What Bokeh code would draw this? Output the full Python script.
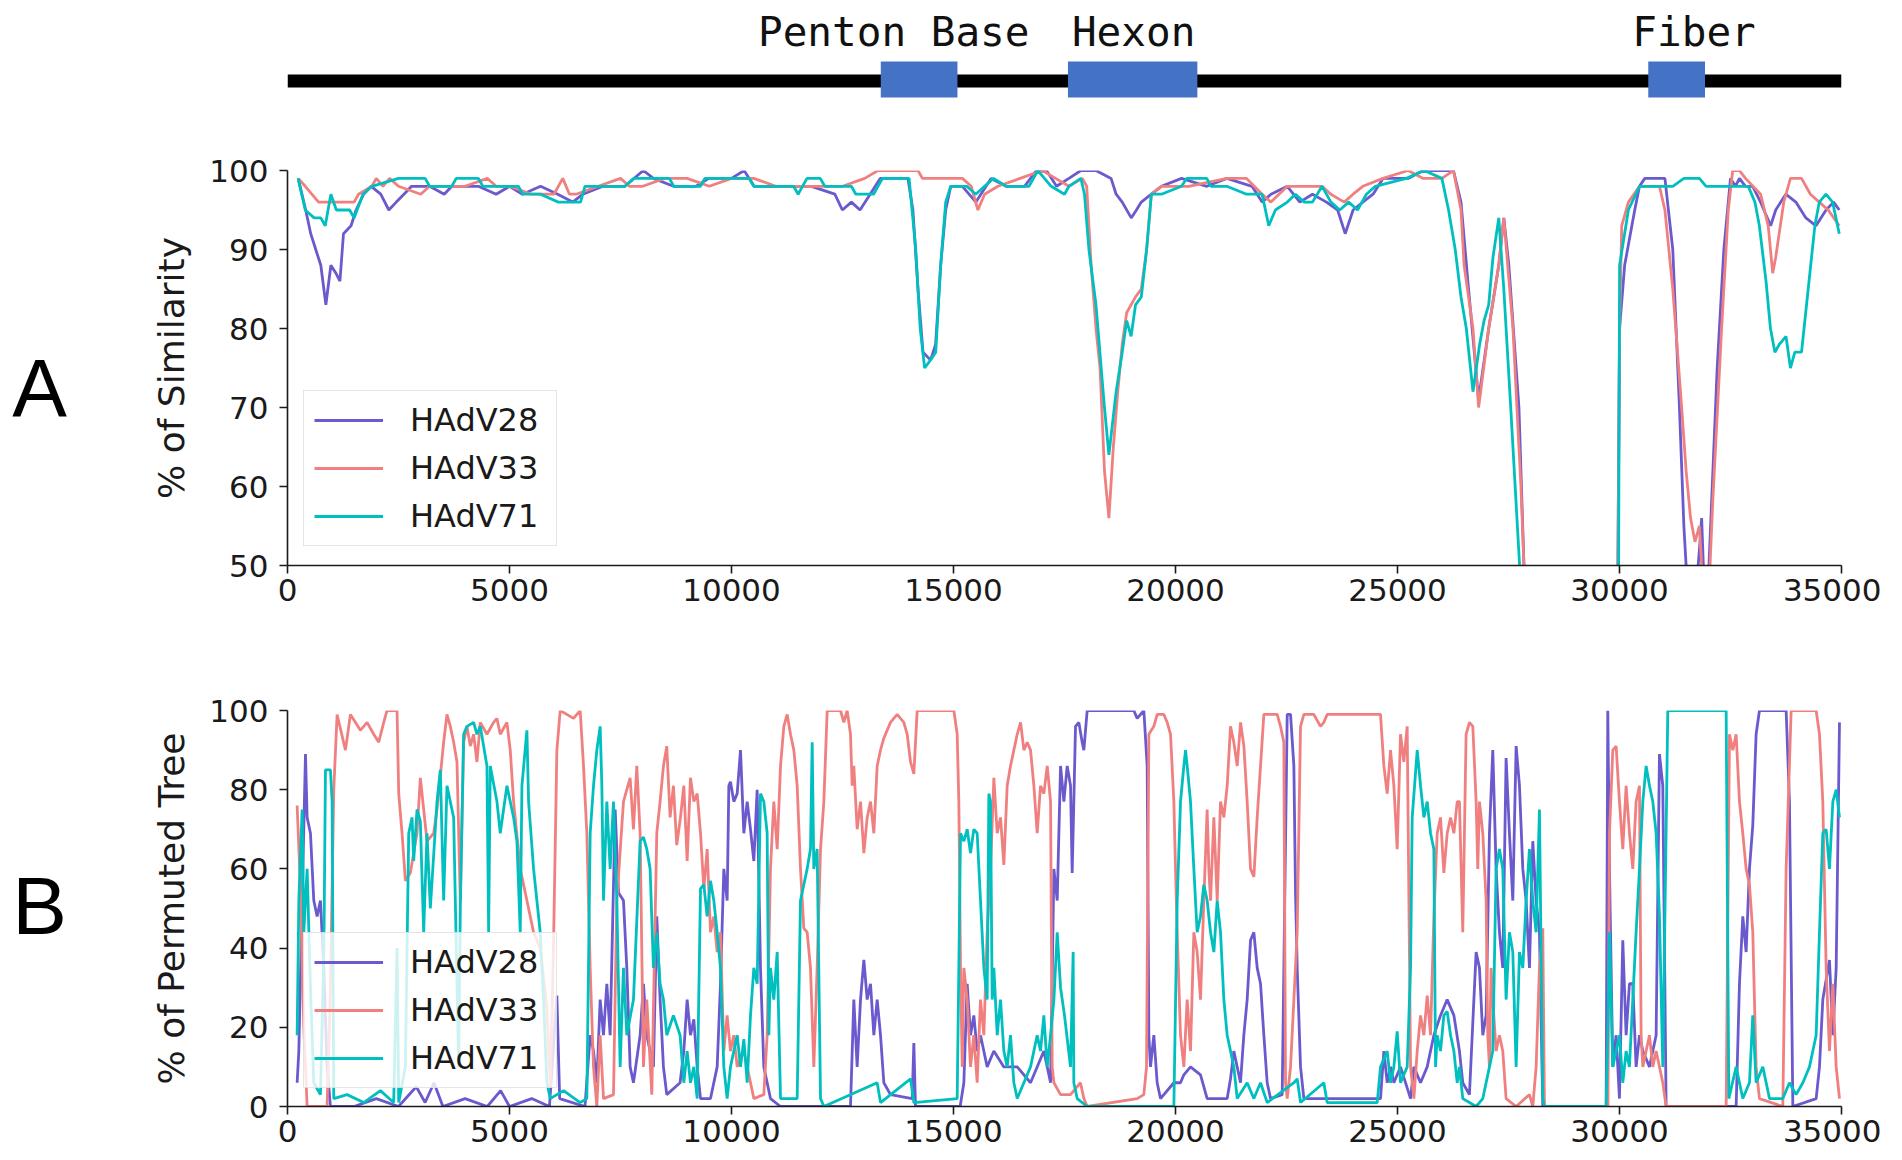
from bokeh.plotting import figure
from bokeh.layouts import column, row
from bokeh.models import Range1d, FixedTicker, Legend, LegendItem
from bokeh.embed import file_html
from bokeh.resources import INLINE
from bokeh.core.properties import value

# ---------------- data ----------------
series_names = ["HAdV28", "HAdV33", "HAdV71"]
series_colors = ["#6A5ACD", "#F08080", "#00BFBF"]

gene_names = ["Penton Base", "Hexon", "Fiber"]
gene_start = [13423, 17658, 30788]
gene_end = [15158, 20586, 32072]
gene_label_x = [13716, 19144, 31824]
genome_length = 35160

panel_letters = ["A", "B"]

x_ticks = [0, 5000, 10000, 15000, 20000, 25000, 30000, 35000]
sim_ticks = [50, 60, 70, 80, 90, 100]
perm_ticks = [0, 20, 40, 60, 80, 100]

# Panel A: % of similarity (position bp, value %)
sim_hadv28 = [(240, 99), (410, 95), (523, 92), (636, 90), (750, 88), (864, 83), (977, 88), (1090, 87), (1181, 86), (1261, 92), (1431, 93), (1545, 95), (1715, 97), (1885, 98), (2100, 97), (2282, 95), (2450, 96), (2623, 97), (2793, 98), (3200, 98), (3530, 97), (3700, 98), (4300, 98), (4700, 97), (5000, 98), (5290, 97), (5700, 98), (6085, 97), (6425, 96), (6652, 97), (7106, 98), (7600, 98), (8014, 100), (8241, 99), (8695, 98), (9200, 98), (9490, 99), (10000, 99), (10284, 100), (10511, 98), (11200, 98), (11800, 98), (12327, 97), (12497, 95), (12700, 96), (12895, 95), (13122, 97), (13349, 99), (13973, 99), (14086, 95), (14200, 85), (14313, 77), (14484, 76), (14597, 78), (14711, 88), (14824, 95), (14938, 98), (15200, 98), (15505, 96), (15846, 99), (16186, 98), (16600, 98), (16867, 100), (17094, 100), (17321, 98), (17600, 99), (17869, 100), (18209, 100), (18549, 99), (18663, 97), (18800, 96), (19003, 94), (19120, 95), (19230, 96), (19456, 97), (19683, 98), (20137, 99), (20704, 98), (21157, 99), (21724, 98), (21951, 96), (22150, 97), (22518, 98), (22800, 96), (23085, 97), (23400, 96), (23652, 95), (23822, 92), (24000, 95), (24219, 96), (24450, 97), (24673, 99), (25240, 99), (25580, 100), (26260, 100), (26430, 96), (26600, 85), (26827, 71), (27054, 80), (27281, 88), (27394, 94), (27508, 88), (27735, 70), (27848, 50), (27950, 30), (28100, 0), (29900, 0), (30002, 80), (30116, 88), (30343, 95), (30450, 98), (30570, 99), (31023, 99), (31200, 90), (31350, 70), (31450, 55), (31550, 45), (31700, 45), (31800, 52), (31850, 56), (31920, 45), (32000, 48), (32200, 75), (32350, 90), (32500, 99), (32611, 98), (32700, 99), (32838, 98), (33000, 98), (33178, 96), (33404, 93), (33518, 95), (33745, 97), (33972, 96), (34198, 94), (34425, 93), (34652, 95), (34822, 96), (34950, 95)]

sim_hadv33 = [(240, 99), (400, 98), (700, 96), (1000, 96), (1500, 96), (1600, 97), (1900, 98), (2000, 99), (2150, 98), (2300, 99), (2500, 98), (3000, 97), (3200, 98), (3500, 98), (4000, 98), (4500, 99), (4700, 98), (5000, 98), (5500, 97), (6000, 97), (6200, 99), (6350, 97), (6500, 97), (7000, 98), (7500, 99), (7700, 98), (8000, 98), (8500, 99), (9000, 99), (9500, 98), (10000, 99), (10500, 99), (11000, 98), (12500, 98), (13000, 99), (13300, 100), (14200, 100), (14300, 99), (15200, 99), (15400, 98), (15550, 95), (15700, 97), (16000, 98), (16500, 99), (17000, 100), (17300, 99), (17600, 98), (17900, 99), (18000, 98), (18100, 88), (18209, 80), (18300, 75), (18400, 62), (18500, 56), (18600, 65), (18700, 72), (18800, 78), (18900, 82), (19100, 84), (19230, 85), (19350, 90), (19456, 97), (19683, 98), (20300, 98), (21157, 99), (21600, 99), (21951, 97), (22150, 96), (22518, 98), (23085, 98), (23300, 98), (23500, 97), (23800, 96), (24000, 97), (24219, 98), (24673, 99), (25240, 100), (25580, 99), (26000, 99), (26260, 100), (26430, 95), (26500, 88), (26700, 80), (26827, 70), (27054, 80), (27281, 88), (27394, 94), (27600, 80), (27780, 60), (27848, 50), (27950, 30), (28100, 0), (29900, 0), (30002, 80), (30050, 93), (30200, 96), (30450, 98), (30900, 98), (31023, 95), (31200, 85), (31400, 70), (31500, 62), (31600, 56), (31700, 53), (31800, 55), (31900, 45), (32000, 45), (32100, 58), (32300, 80), (32450, 95), (32550, 100), (32700, 100), (32838, 99), (33178, 97), (33350, 93), (33450, 87), (33518, 89), (33700, 96), (33850, 99), (34100, 99), (34300, 97), (34500, 96), (34700, 95), (34950, 93)]

sim_hadv71 = [(240, 99), (400, 95), (600, 94), (750, 94), (850, 93), (977, 97), (1100, 95), (1400, 95), (1500, 94), (1700, 97), (1900, 98), (2500, 99), (3100, 99), (3200, 98), (3700, 98), (3800, 99), (4300, 99), (4400, 98), (5200, 98), (5300, 97), (5700, 97), (6100, 96), (6600, 96), (6700, 98), (7600, 98), (7800, 99), (8600, 99), (8700, 98), (9300, 98), (9400, 99), (10400, 99), (10500, 98), (11400, 98), (11500, 97), (11700, 99), (12000, 99), (12100, 98), (12700, 98), (12800, 97), (13200, 97), (13400, 99), (14000, 99), (14150, 90), (14250, 80), (14350, 75), (14480, 76), (14600, 77), (14711, 88), (14824, 96), (14938, 98), (15300, 98), (15500, 97), (15900, 99), (16186, 98), (16700, 98), (16900, 100), (17200, 98), (17500, 97), (17600, 98), (17869, 99), (17950, 97), (18050, 90), (18209, 83), (18400, 70), (18500, 64), (18663, 72), (18800, 77), (18900, 81), (19000, 79), (19100, 83), (19230, 84), (19350, 90), (19456, 97), (19683, 97), (20137, 98), (20250, 99), (20704, 99), (20800, 98), (21157, 98), (21600, 97), (21951, 97), (22100, 93), (22250, 95), (22518, 96), (22700, 97), (22900, 96), (23085, 96), (23300, 98), (23500, 96), (23700, 95), (23900, 96), (24100, 95), (24300, 97), (24500, 98), (25200, 99), (25600, 100), (26000, 99), (26150, 95), (26300, 90), (26430, 84), (26550, 80), (26700, 72), (26850, 78), (26950, 81), (27054, 83), (27150, 89), (27281, 94), (27394, 85), (27550, 70), (27750, 50), (27900, 30), (28100, 0), (29950, 0), (30002, 88), (30200, 95), (30450, 98), (31200, 98), (31450, 99), (31800, 99), (31950, 98), (32900, 98), (33050, 96), (33150, 93), (33300, 86), (33400, 80), (33500, 77), (33600, 78), (33750, 79), (33850, 75), (33950, 77), (34100, 77), (34250, 85), (34400, 93), (34500, 96), (34650, 97), (34800, 96), (34950, 92)]

# Panel B: % of permuted trees (position bp, value %)
perm_hadv28 = [(217, 6), (255, 14), (330, 52), (405, 89), (442, 73), (517, 69), (592, 52), (667, 48), (742, 52), (817, 35), (892, 10), (967, 0), (1500, 0), (2000, 2), (2500, 0), (2900, 5), (3100, 1), (3300, 6), (3500, 0), (4000, 2), (4500, 0), (4800, 4), (5000, 0), (5500, 2), (5900, 0), (6067, 28), (6130, 2), (6700, 0), (6817, 18), (6892, 14), (6967, 6), (7042, 27), (7117, 18), (7192, 31), (7267, 18), (7380, 75), (7455, 54), (7567, 52), (7642, 35), (7717, 10), (7792, 6), (7942, 18), (8017, 31), (8092, 18), (8242, 10), (8317, 48), (8392, 27), (8467, 10), (8542, 3), (8842, 6), (8926, 14), (9001, 27), (9076, 18), (9152, 22), (9227, 10), (9302, 2), (9527, 2), (9677, 10), (9752, 31), (9827, 60), (9902, 52), (9940, 81), (9977, 82), (10052, 77), (10128, 79), (10203, 90), (10278, 69), (10353, 77), (10428, 70), (10503, 62), (10578, 80), (10653, 35), (10728, 10), (10878, 2), (11104, 0), (12680, 0), (12755, 27), (12830, 10), (12906, 27), (12981, 37), (13056, 27), (13131, 31), (13206, 18), (13281, 27), (13356, 18), (13431, 6), (13581, 3), (14070, 2), (14107, 16), (14144, 0), (15150, 0), (15233, 6), (15308, 31), (15383, 18), (15458, 23), (15533, 14), (15608, 18), (15758, 10), (15909, 14), (16134, 10), (16435, 10), (16735, 6), (17035, 14), (17186, 6), (17261, 60), (17336, 52), (17411, 86), (17486, 77), (17561, 86), (17636, 81), (17673, 59), (17710, 77), (17748, 96), (17823, 97), (17898, 92), (17936, 90), (18011, 100), (19062, 100), (19137, 98), (19287, 100), (19362, 86), (19400, 18), (19437, 10), (19512, 18), (19587, 6), (19662, 2), (19963, 6), (20113, 6), (20188, 8), (20338, 10), (20563, 8), (20713, 2), (21164, 2), (21239, 7), (21314, 14), (21464, 6), (21539, 18), (21614, 27), (21690, 42), (21765, 44), (21840, 35), (21915, 31), (21990, 18), (22065, 6), (22140, 2), (22403, 3), (22516, 99), (22591, 99), (22666, 86), (22703, 54), (22741, 35), (22816, 10), (22891, 2), (24617, 2), (24693, 14), (24768, 6), (24843, 10), (24918, 6), (25068, 10), (25294, 2), (25369, 10), (25519, 6), (25669, 10), (25819, 18), (25969, 23), (26119, 27), (26270, 23), (26395, 14), (26470, 6), (26620, 3), (26771, 39), (26846, 35), (26921, 18), (26996, 23), (27071, 69), (27146, 90), (27221, 60), (27296, 44), (27371, 35), (27446, 88), (27521, 69), (27597, 52), (27672, 91), (27747, 81), (27822, 60), (27897, 52), (27972, 35), (28047, 67), (28122, 52), (28197, 44), (28272, 0), (29699, 0), (29736, 100), (29774, 60), (29849, 10), (29924, 18), (29999, 2), (30074, 42), (30149, 18), (30224, 31), (30299, 31), (30374, 10), (30450, 18), (30525, 14), (30675, 10), (30825, 18), (30900, 89), (30975, 81), (31050, 0), (32627, 0), (32702, 31), (32777, 48), (32852, 39), (32927, 60), (33002, 71), (33077, 94), (33152, 100), (33753, 100), (33828, 77), (33904, 0), (34429, 2), (34504, 10), (34579, 27), (34729, 37), (34805, 18), (34880, 35), (34955, 97)]

perm_hadv33 = [(217, 76), (292, 55), (367, 20), (442, 0), (892, 0), (967, 30), (1042, 80), (1117, 99), (1305, 90), (1417, 99), (1642, 95), (1792, 97), (1942, 94), (2055, 92), (2167, 97), (2242, 100), (2467, 100), (2505, 79), (2580, 69), (2655, 57), (2767, 59), (2917, 69), (2992, 83), (3142, 67), (3292, 69), (3367, 75), (3517, 92), (3592, 99), (3667, 96), (3742, 92), (3817, 87), (3892, 52), (3967, 92), (4042, 96), (4117, 91), (4192, 94), (4267, 87), (4342, 97), (4492, 94), (4642, 97), (4717, 98), (4792, 94), (4942, 97), (5017, 90), (5092, 77), (5242, 60), (5392, 52), (5542, 44), (5692, 40), (5842, 25), (5920, 5), (5990, 40), (6067, 90), (6142, 100), (6442, 98), (6592, 100), (6667, 86), (6742, 69), (6817, 35), (6892, 10), (6967, 0), (7042, 18), (7117, 2), (7342, 3), (7417, 52), (7567, 77), (7642, 80), (7717, 83), (7792, 70), (7867, 86), (7942, 69), (8017, 10), (8092, 27), (8205, 3), (8317, 69), (8392, 77), (8467, 86), (8542, 91), (8617, 73), (8692, 81), (8767, 66), (8851, 73), (8926, 81), (9001, 62), (9076, 83), (9152, 77), (9227, 79), (9302, 69), (9377, 55), (9452, 65), (9527, 44), (9602, 48), (9677, 39), (9752, 44), (9827, 14), (9902, 23), (9977, 14), (10052, 18), (10128, 10), (10278, 14), (10428, 6), (10503, 2), (10728, 3), (10803, 18), (10878, 60), (10953, 77), (11029, 65), (11104, 86), (11179, 96), (11254, 99), (11329, 94), (11404, 90), (11479, 81), (11554, 60), (11629, 45), (11704, 44), (11779, 35), (11854, 10), (11929, 35), (12005, 65), (12080, 77), (12155, 100), (12455, 100), (12530, 97), (12605, 100), (12680, 94), (12718, 81), (12755, 86), (12830, 70), (12906, 77), (12981, 64), (13056, 73), (13131, 77), (13206, 69), (13281, 86), (13356, 90), (13431, 93), (13581, 97), (13731, 99), (13881, 97), (13957, 94), (14032, 87), (14107, 84), (14182, 100), (15008, 100), (15083, 94), (15120, 77), (15158, 35), (15196, 10), (15233, 35), (15308, 27), (15383, 10), (15458, 18), (15533, 6), (15608, 27), (15684, 18), (15758, 44), (15834, 60), (15909, 83), (15984, 69), (16059, 73), (16134, 61), (16209, 81), (16284, 86), (16359, 90), (16435, 94), (16510, 97), (16585, 90), (16660, 92), (16735, 90), (16810, 81), (16885, 69), (16960, 81), (17035, 79), (17111, 86), (17186, 77), (17223, 10), (17261, 6), (17411, 3), (17636, 3), (17860, 6), (17936, 2), (18011, 0), (19137, 2), (19287, 3), (19347, 10), (19400, 94), (19512, 96), (19587, 99), (19738, 99), (19813, 97), (19888, 94), (19963, 77), (20000, 60), (20038, 44), (20113, 18), (20188, 10), (20263, 27), (20338, 14), (20413, 44), (20488, 39), (20563, 27), (20638, 52), (20713, 75), (20751, 60), (20789, 52), (20864, 73), (20939, 52), (21014, 77), (21089, 73), (21164, 81), (21239, 96), (21314, 92), (21390, 86), (21465, 97), (21540, 91), (21614, 77), (21690, 60), (21765, 58), (21840, 73), (21915, 86), (21990, 99), (22290, 99), (22365, 96), (22440, 92), (22478, 6), (22516, 2), (22591, 10), (22666, 27), (22741, 44), (22816, 96), (22891, 99), (23116, 99), (23266, 96), (23341, 97), (23416, 99), (24617, 99), (24693, 86), (24768, 79), (24843, 90), (24918, 81), (24993, 65), (25068, 94), (25143, 87), (25218, 96), (25294, 10), (25369, 2), (25444, 14), (25519, 23), (25594, 18), (25669, 28), (25744, 18), (25819, 48), (25894, 69), (25969, 73), (26044, 59), (26119, 69), (26195, 73), (26270, 69), (26345, 77), (26395, 77), (26470, 44), (26545, 94), (26620, 97), (26696, 96), (26771, 77), (26808, 60), (26846, 77), (26921, 69), (26996, 52), (27033, 18), (27071, 10), (27108, 35), (27146, 27), (27221, 14), (27296, 18), (27371, 14), (27446, 2), (27672, 0), (27972, 3), (28047, 0), (28122, 10), (28197, 35), (28272, 45), (28310, 0), (29740, 0), (29774, 69), (29849, 90), (29924, 91), (29999, 77), (30074, 65), (30149, 81), (30224, 69), (30299, 60), (30374, 77), (30450, 81), (30487, 18), (30525, 10), (30600, 14), (30675, 18), (30750, 10), (30825, 14), (30975, 6), (31050, 0), (32402, 0), (32477, 94), (32552, 90), (32627, 94), (32702, 77), (32777, 69), (32852, 60), (32927, 56), (33002, 44), (33077, 10), (33152, 2), (33678, 0), (33753, 60), (33866, 100), (34429, 100), (34504, 94), (34579, 77), (34654, 35), (34729, 14), (34805, 31), (34880, 10), (34955, 2)]

perm_hadv71 = [(217, 18), (255, 52), (330, 75), (367, 44), (442, 60), (517, 30), (592, 6), (742, 3), (820, 40), (855, 85), (967, 85), (1005, 77), (1042, 2), (1342, 3), (1717, 1), (2092, 4), (2392, 1), (2467, 40), (2505, 1), (2655, 10), (2730, 69), (2805, 73), (2842, 62), (2917, 75), (2992, 72), (3067, 44), (3142, 69), (3217, 50), (3367, 77), (3442, 85), (3517, 52), (3592, 81), (3742, 73), (3855, 10), (3892, 50), (3967, 94), (4042, 96), (4192, 97), (4267, 94), (4342, 96), (4492, 86), (4530, 44), (4567, 86), (4717, 77), (4792, 69), (4942, 81), (5092, 73), (5167, 67), (5242, 44), (5280, 81), (5392, 95), (5430, 77), (5542, 60), (5692, 44), (5767, 27), (5842, 6), (5917, 2), (6217, 4), (6592, 1), (6742, 2), (6817, 69), (6892, 81), (6967, 90), (7042, 96), (7080, 81), (7117, 52), (7192, 77), (7267, 60), (7342, 77), (7417, 52), (7492, 10), (7567, 35), (7642, 18), (7792, 27), (7942, 67), (8017, 68), (8092, 65), (8167, 60), (8242, 35), (8317, 44), (8392, 31), (8467, 27), (8542, 18), (8692, 23), (8842, 18), (8926, 6), (9001, 14), (9076, 6), (9152, 10), (9227, 2), (9302, 55), (9377, 56), (9452, 48), (9527, 57), (9602, 52), (9677, 44), (9752, 35), (9827, 10), (9902, 2), (9977, 10), (10052, 14), (10128, 18), (10203, 10), (10278, 17), (10353, 6), (10428, 23), (10503, 35), (10578, 31), (10653, 79), (10728, 77), (10803, 69), (10841, 18), (10878, 35), (10953, 27), (11029, 39), (11104, 2), (11479, 2), (11554, 52), (11629, 56), (11704, 60), (11779, 65), (11817, 92), (11854, 60), (11929, 65), (12005, 2), (12080, 0), (13281, 6), (13356, 1), (14032, 7), (14107, 1), (15083, 2), (15158, 69), (15233, 67), (15308, 70), (15383, 64), (15458, 70), (15533, 69), (15608, 52), (15684, 35), (15758, 27), (15796, 79), (15834, 77), (15871, 27), (15909, 35), (15984, 18), (16059, 27), (16134, 14), (16209, 10), (16284, 18), (16359, 6), (16435, 2), (16585, 6), (16735, 10), (16885, 18), (16960, 14), (17035, 23), (17111, 10), (17186, 18), (17261, 27), (17336, 44), (17411, 30), (17500, 23), (17635, 10), (17695, 39), (17710, 6), (17786, 2), (18011, 0), (19963, 0), (20038, 52), (20113, 77), (20188, 86), (20226, 90), (20263, 86), (20338, 77), (20413, 60), (20488, 44), (20563, 48), (20638, 56), (20713, 52), (20789, 44), (20864, 39), (20939, 52), (21014, 44), (21089, 27), (21164, 18), (21239, 14), (21314, 10), (21390, 2), (21614, 6), (21765, 2), (21915, 6), (22065, 1), (22666, 6), (22741, 7), (22816, 1), (23341, 6), (23416, 1), (24543, 1), (24618, 10), (24768, 14), (24843, 6), (24918, 10), (24993, 19), (25068, 6), (25218, 10), (25294, 35), (25331, 73), (25444, 90), (25519, 81), (25594, 73), (25669, 77), (25744, 69), (25819, 65), (25857, 10), (25894, 18), (25969, 14), (26044, 23), (26119, 24), (26195, 18), (26270, 14), (26345, 6), (26395, 10), (26470, 2), (26620, 1), (26771, 0), (26921, 2), (26996, 6), (27071, 10), (27146, 14), (27221, 60), (27296, 65), (27371, 60), (27446, 27), (27521, 44), (27597, 39), (27672, 10), (27747, 39), (27822, 35), (27897, 52), (27972, 65), (28047, 52), (28122, 44), (28197, 75), (28272, 2), (28310, 0), (29699, 0), (29736, 18), (29774, 44), (29849, 10), (29999, 18), (30074, 6), (30149, 14), (30224, 10), (30299, 27), (30374, 44), (30450, 60), (30525, 77), (30600, 86), (30675, 81), (30750, 77), (30825, 69), (30900, 48), (30975, 10), (31088, 100), (32402, 100), (32462, 2), (32627, 10), (32777, 2), (32927, 6), (33002, 23), (33077, 6), (33228, 10), (33378, 2), (33678, 2), (33828, 6), (33978, 3), (34129, 6), (34279, 10), (34429, 18), (34504, 44), (34579, 69), (34654, 70), (34729, 60), (34805, 77), (34880, 80), (34955, 73)]

sim_series = [sim_hadv28, sim_hadv33, sim_hadv71]
perm_series = [perm_hadv28, perm_hadv33, perm_hadv71]

# ---------------- layout ----------------
LETTER_W = 98
W = 1783
LEFT = 189
FONT = "DejaVu Sans"
INK = "#1a1a1a"
H_G, H_A, H_B = 128, 502, 526
H_ALL = H_G + H_A + H_B


def bare(p):
    p.outline_line_color = None
    p.xgrid.visible = False
    p.ygrid.visible = False
    p.background_fill_color = None
    p.border_fill_color = None


def style_axes(p, yticks, ylabel):
    p.outline_line_color = None
    p.xgrid.visible = False
    p.ygrid.visible = False
    p.xaxis.ticker = FixedTicker(ticks=x_ticks)
    p.yaxis.ticker = FixedTicker(ticks=yticks)
    for ax in (p.xaxis, p.yaxis):
        ax.axis_line_color = INK
        ax.axis_line_width = 1.6
        ax.major_tick_line_color = INK
        ax.major_tick_line_width = 1.6
        ax.major_tick_out = 8
        ax.major_tick_in = 0
        ax.minor_tick_line_color = None
        ax.major_label_text_font = FONT
        ax.major_label_text_font_size = "31px"
        ax.major_label_text_color = INK
    p.xaxis.major_label_standoff = 5
    p.yaxis.major_label_standoff = 11
    p.yaxis.axis_label = ylabel
    p.yaxis.axis_label_text_font = FONT
    p.yaxis.axis_label_text_font_size = "36px"
    p.yaxis.axis_label_text_font_style = "normal"
    p.yaxis.axis_label_text_color = INK
    p.yaxis.axis_label_standoff = 14


def add_lines(p, series_list, legend_loc):
    items = []
    for name, color, pts in zip(series_names, series_colors, series_list):
        xs = [a for a, b in pts]
        ys = [b for a, b in pts]
        r = p.line(xs, ys, line_color=color, line_width=2.8)
        items.append(LegendItem(label=name, renderers=[r]))
    lg = Legend(items=items, location=legend_loc)
    lg.label_text_font = FONT
    lg.label_text_font_size = "32px"
    lg.label_text_color = INK
    lg.glyph_width = 69
    lg.glyph_height = 38
    lg.label_height = 38
    lg.label_width = 136
    lg.label_standoff = 27
    lg.spacing = 10
    lg.padding = 10
    lg.margin = 0
    lg.border_line_color = "#cccccc"
    lg.border_line_width = 1.5
    lg.background_fill_color = "white"
    lg.background_fill_alpha = 0.8
    p.add_layout(lg)


# panel letters strip
lt = figure(width=LETTER_W, height=H_ALL, x_range=Range1d(0, LETTER_W), y_range=Range1d(0, H_ALL),
            toolbar_location=None, output_backend="svg", x_axis_location=None, y_axis_location=None,
            min_border=0)
bare(lt)
lt.text(x=[39, 39], y=[H_ALL - 387, H_ALL - 905], text=panel_letters,
        text_font=value("Liberation Sans"), text_font_size="82px",
        text_align="center", text_baseline="middle", text_color="black")

# genome map
g = figure(width=W, height=H_G, x_range=Range1d(0, genome_length), y_range=Range1d(0, H_G),
           toolbar_location=None, output_backend="svg", x_axis_location=None, y_axis_location=None,
           min_border_left=LEFT, min_border_right=W - LEFT - 1561, min_border_top=0, min_border_bottom=0)
bare(g)
g.quad(left=[0], right=[genome_length], bottom=[H_G - 87], top=[H_G - 74], fill_color="black", line_color=None)
g.quad(left=gene_start, right=gene_end, bottom=[H_G - 97] * 3, top=[H_G - 61] * 3,
       fill_color="#4472C4", line_color=None)
g.text(x=gene_label_x, y=[H_G - 31] * 3, text=gene_names, text_font=value("DejaVu Sans Mono"),
       text_font_size="41px", text_align="center", text_baseline="middle", text_color="#111111")

# panel A
pa = figure(width=W, height=H_A, x_range=Range1d(0, 35000), y_range=Range1d(50, 100),
            toolbar_location=None, output_backend="svg",
            min_border_left=LEFT, min_border_right=40, min_border_top=42, min_border_bottom=65)
style_axes(pa, sim_ticks, "% of Similarity")
add_lines(pa, sim_series, (16, 19))

# panel B
pb = figure(width=W, height=H_B, x_range=Range1d(0, 35000), y_range=Range1d(0, 100),
            toolbar_location=None, output_backend="svg",
            min_border_left=LEFT, min_border_right=40, min_border_top=80, min_border_bottom=50)
style_axes(pb, perm_ticks, "% of Permuted Tree")
add_lines(pb, perm_series, (16, 18))

layout = row(lt, column(g, pa, pb))
open("out.html", "w").write(file_html(layout, INLINE))
